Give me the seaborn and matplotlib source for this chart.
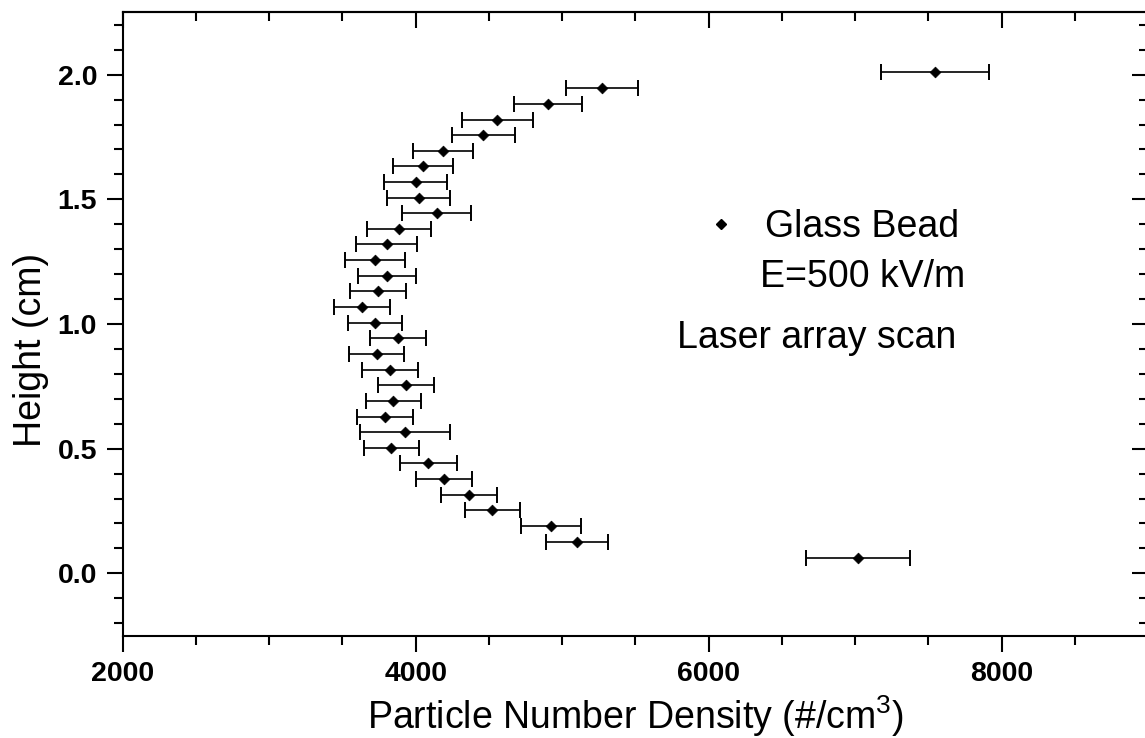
# plot.py
# Particle number density profile (glass bead, E=500 kV/m), laser array scan

import matplotlib
matplotlib.use('Agg')
import matplotlib.pyplot as plt
import seaborn as sns
import pandas as pd
from matplotlib.ticker import MultipleLocator
from matplotlib.lines import Line2D

# Data (bottom to top)
height = [0.063, 0.127, 0.190, 0.254, 0.315, 0.378, 0.441, 0.502, 0.566, 0.629,
          0.692, 0.754, 0.816, 0.880, 0.942, 1.005, 1.067, 1.131, 1.194, 1.257,
          1.320, 1.382, 1.446, 1.507, 1.568, 1.632, 1.694, 1.758, 1.820, 1.884,
          1.945, 2.011]
density = [7020, 5104, 4924, 4524, 4365, 4192, 4087, 3835, 3926, 3792,
           3847, 3933, 3826, 3733, 3878, 3721, 3633, 3742, 3803, 3724,
           3803, 3885, 4144, 4021, 4001, 4051, 4188, 4463, 4558, 4904,
           5272, 7546]
density_err = [352, 212, 204, 190, 192, 191, 192, 190, 309, 193,
               189, 191, 189, 189, 193, 186, 193, 191, 197, 204,
               207, 219, 237, 214, 215, 207, 206, 218, 242, 233,
               243, 368]

legend_label = 'Glass Bead'
field_text = 'E=500 kV/m'
method_text = 'Laser array scan'

df = pd.DataFrame({'density': density, 'height': height, 'err': density_err})

sns.set_theme(style='ticks')
plt.rcParams['font.family'] = ['Liberation Sans', 'DejaVu Sans']
plt.rcParams['axes.linewidth'] = 1.5
plt.rcParams['text.color'] = 'black'
plt.rcParams['axes.labelcolor'] = 'black'
plt.rcParams['axes.edgecolor'] = 'black'
plt.rcParams['xtick.color'] = 'black'
plt.rcParams['ytick.color'] = 'black'

W, H = 1145, 738
fig = plt.figure(figsize=(W / 100, H / 100), dpi=100)
ax = fig.add_axes([122.7 / W, (H - 635.7) / H, (1148 - 122.7) / W, (635.7 - 12.3) / H])

# error bars first, then diamonds on top
ax.errorbar(df['density'], df['height'], xerr=df['err'], fmt='none',
            ecolor='black', elinewidth=1.2, capsize=5.8, capthick=1.4, zorder=2)
sns.scatterplot(data=df, x='density', y='height', marker='D', color='black',
                s=30, edgecolor='black', linewidth=0.5, ax=ax, zorder=3, legend=False)

ax.set_xlim(2000, 9000)
ax.set_ylim(-0.25, 2.25)
ax.xaxis.set_major_locator(MultipleLocator(2000))
ax.xaxis.set_minor_locator(MultipleLocator(500))
ax.yaxis.set_major_locator(MultipleLocator(0.5))
ax.yaxis.set_minor_locator(MultipleLocator(0.1))
ax.yaxis.set_major_formatter(plt.FormatStrFormatter('%.1f'))

ax.tick_params(which='major', direction='out', length=11.5, width=1.5,
               labelsize=20.5, colors='black')
ax.tick_params(which='minor', direction='out', length=6.3, width=1.5)
ax.tick_params(axis='x', pad=7)
ax.tick_params(axis='y', pad=7)
for lab in ax.get_xticklabels() + ax.get_yticklabels():
    lab.set_fontweight('bold')

# mirrored inward ticks on top and right
top = ax.secondary_xaxis('top')
top.xaxis.set_major_locator(MultipleLocator(2000))
top.xaxis.set_minor_locator(MultipleLocator(500))
top.tick_params(which='major', direction='in', length=11.5, width=1.5, labeltop=False)
top.tick_params(which='minor', direction='in', length=6.3, width=1.5)
right = ax.secondary_yaxis('right')
right.yaxis.set_major_locator(MultipleLocator(0.5))
right.yaxis.set_minor_locator(MultipleLocator(0.1))
right.tick_params(which='major', direction='in', length=11.5, width=1.5, labelright=False)
right.tick_params(which='minor', direction='in', length=6.3, width=1.5)

ax.set_xlabel(r'Particle Number Density (#/cm$\mathregular{^3}$)', fontsize=27, labelpad=4)
ax.set_ylabel('Height (cm)', fontsize=27, labelpad=6, y=0.458)

handle = Line2D([], [], marker='D', color='black', linestyle='none', markersize=5.5)
ax.legend([handle], [legend_label], loc='upper left', frameon=False, fontsize=27,
          bbox_to_anchor=(702 / W, (H - 209) / H), bbox_transform=fig.transFigure,
          borderpad=0, borderaxespad=0, handlelength=1.0, handletextpad=0.67)
fig.text(760 / W, (H - 287) / H, field_text, fontsize=27, va='baseline')
fig.text(677 / W, (H - 348) / H, method_text, fontsize=27, va='baseline')

fig.savefig('out.png', dpi=100)
